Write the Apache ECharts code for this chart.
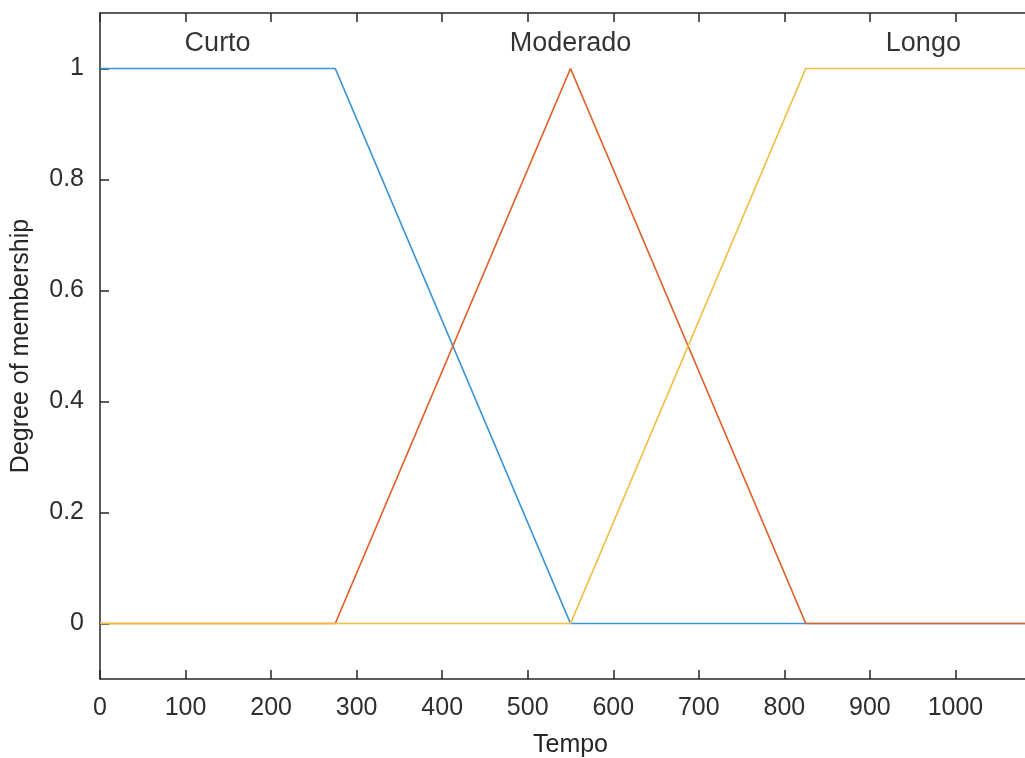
<!DOCTYPE html>
<html>
<head>
<meta charset="utf-8">
<script src="https://cdn.jsdelivr.net/npm/echarts@6/dist/echarts.min.js"></script>
<style>html,body{margin:0;padding:0;background:#fff;}#c{width:1025px;height:758px;}</style>
</head>
<body>
<div id="c"></div>
<script>
// Membership functions (Tempo, degree)
const curto    = [[0, 1], [275, 1], [550, 0], [1100, 0]];
const moderado = [[0, 0], [275, 0], [550, 1], [825, 0], [1100, 0]];
const longo    = [[0, 0], [550, 0], [825, 1], [1100, 1]];
const mfLabels = [["Curto", 137.5, 1.045], ["Moderado", 550, 1.045], ["Longo", 962.5, 1.045]];
const xTicks = [0, 100, 200, 300, 400, 500, 600, 700, 800, 900, 1000, 1100];
const xLabels = [0, 100, 200, 300, 400, 500, 600, 700, 800, 900, 1000];
const yTicks = [0, 0.2, 0.4, 0.6, 0.8, 1];

const font = 'Liberation Sans, Arial, Helvetica, sans-serif';
const axisCol = '#262626';
const chart = echarts.init(document.getElementById('c'), null, {renderer: 'canvas'});
chart.setOption({
  animation: false,
  backgroundColor: '#ffffff',
  grid: {left: 100, right: -16, top: 13, bottom: 79, containLabel: false, outerBoundsMode: 'none'},
  xAxis: [{
    type: 'value', min: 0, max: 1100,
    name: 'Tempo', nameLocation: 'middle', nameGap: 54,
    nameTextStyle: {fontFamily: font, fontSize: 25, color: '#262626'},
    axisLine: {show: true, onZero: false, lineStyle: {color: axisCol, width: 1.5}},
    axisTick: {show: true, inside: true, length: 9, customValues: xTicks, lineStyle: {color: axisCol, width: 1.5}},
    axisLabel: {customValues: xLabels, fontFamily: font, fontSize: 25, color: '#2e2e2e', margin: 17,
      formatter: v => String(v)},
    splitLine: {show: false}
  }, {
    type: 'value', min: 0, max: 1100, position: 'top',
    axisLine: {show: true, onZero: false, lineStyle: {color: axisCol, width: 1.5}},
    axisTick: {show: true, inside: true, length: 9, customValues: xTicks, lineStyle: {color: axisCol, width: 1.5}},
    axisLabel: {show: false},
    splitLine: {show: false}
  }],
  yAxis: [{
    type: 'value', min: -0.1, max: 1.1,
    name: 'Degree of membership', nameLocation: 'middle', nameGap: 66,
    nameTextStyle: {fontFamily: font, fontSize: 25, color: '#262626'},
    axisLine: {show: true, onZero: false, lineStyle: {color: axisCol, width: 1.5}},
    axisTick: {show: true, inside: true, length: 9, customValues: yTicks, lineStyle: {color: axisCol, width: 1.5}},
    axisLabel: {customValues: yTicks, fontFamily: font, fontSize: 25, color: '#2e2e2e', margin: 16,
      formatter: v => String(Math.round(v * 10) / 10)},
    splitLine: {show: false}
  }],
  series: [
    {type: 'line', name: 'Curto', data: curto, symbol: 'none', lineStyle: {color: '#3a94d8', width: 1.7}, z: 2},
    {type: 'line', name: 'Moderado', data: moderado, symbol: 'none', lineStyle: {color: '#e0622a', width: 1.7}, z: 3},
    {type: 'line', name: 'Longo', data: longo, symbol: 'none', lineStyle: {color: '#f0be45', width: 1.7}, z: 4},
    {type: 'scatter', data: mfLabels.map(d => ({value: [d[1], d[2]], name: d[0]})),
      symbolSize: 0, silent: true, z: 5,
      label: {show: true, position: 'inside', formatter: p => p.name,
        fontFamily: font, fontSize: 27, color: '#000000'}}
  ]
});
</script>
</body>
</html>
